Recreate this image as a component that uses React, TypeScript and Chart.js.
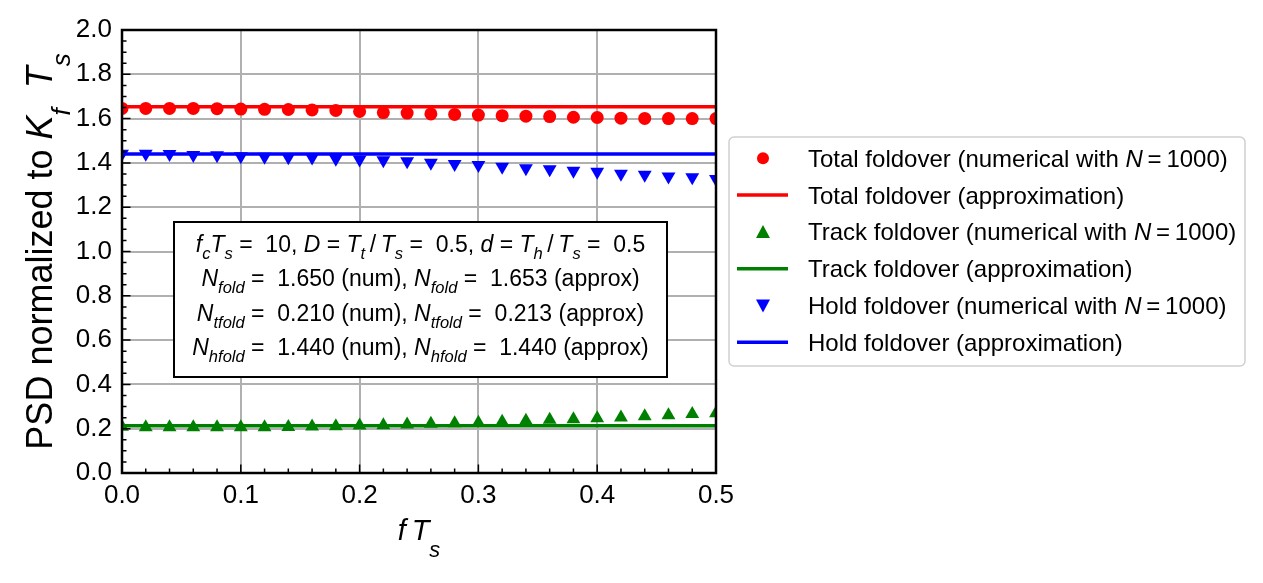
import { useEffect, useRef } from "react";
import { Chart, registerables } from "chart.js";

Chart.register(...registerables);

// frequency axis f*Ts
const fTs = [
	0.0, 0.02, 0.04, 0.06, 0.08, 0.1, 0.12, 0.14, 0.16, 0.18, 0.2, 0.22, 0.24,
	0.26, 0.28, 0.3, 0.32, 0.34, 0.36, 0.38, 0.4, 0.42, 0.44, 0.46, 0.48, 0.5,
];

// numerical PSD values (N = 1000)
const totalNum = [
	1.646, 1.646, 1.646, 1.646, 1.645, 1.643, 1.642, 1.641, 1.639, 1.637, 1.632,
	1.627, 1.625, 1.621, 1.619, 1.616, 1.613, 1.611, 1.609, 1.606, 1.605, 1.602,
	1.601, 1.6, 1.6, 1.6,
];
const trackNum = [
	0.209, 0.206, 0.206, 0.206, 0.206, 0.206, 0.207, 0.208, 0.21, 0.211, 0.214,
	0.216, 0.219, 0.222, 0.225, 0.227, 0.231, 0.236, 0.24, 0.243, 0.247, 0.251,
	0.256, 0.261, 0.266, 0.27,
];
const holdNum = [
	1.441, 1.441, 1.44, 1.436, 1.434, 1.43, 1.428, 1.426, 1.424, 1.419, 1.415,
	1.412, 1.408, 1.401, 1.395, 1.39, 1.383, 1.376, 1.371, 1.365, 1.36, 1.351,
	1.346, 1.339, 1.335, 1.327,
];

// approximations (flat)
const totalApprox = 1.653;
const trackApprox = 0.213;
const holdApprox = 1.44;

// annotation values
const fcTs = 10;
const dutyD = 0.5;
const dutyd = 0.5;
const nFold = [1.65, 1.653];
const nTfold = [0.21, 0.213];
const nHfold = [1.44, 1.44];

const legendLabels = [
	"Total foldover (numerical with ",
	"Total foldover (approximation)",
	"Track foldover (numerical with ",
	"Track foldover (approximation)",
	"Hold foldover (numerical with ",
	"Hold foldover (approximation)",
];

const RED = "#ff0000";
const GREEN = "#008000";
const BLUE = "#0000ff";
const FONT = '"Liberation Sans", Arial, sans-serif';

type Seg = { t: string; it?: boolean; sub?: boolean };

function segFont(s: Seg, size: number, subScale: number) {
	const sz = s.sub ? size * subScale : size;
	return `${s.it ? "italic " : ""}${sz}px ${FONT}`;
}

function richWidth(ctx: CanvasRenderingContext2D, segs: Seg[], size: number, subScale: number) {
	let w = 0;
	for (const s of segs) {
		ctx.font = segFont(s, size, subScale);
		w += ctx.measureText(s.t).width;
	}
	return w;
}

// draws text with italic / subscript pieces, baseline at y
function drawRich(
	ctx: CanvasRenderingContext2D,
	segs: Seg[],
	x: number,
	y: number,
	size: number,
	align: "left" | "center",
	subScale = 0.72,
	subShift = 0.3
) {
	let cx = align === "center" ? x - richWidth(ctx, segs, size, subScale) / 2 : x;
	ctx.textAlign = "left";
	ctx.textBaseline = "alphabetic";
	for (const s of segs) {
		ctx.font = segFont(s, size, subScale);
		ctx.fillText(s.t, cx, s.sub ? y + size * subShift : y);
		cx += ctx.measureText(s.t).width;
	}
}

const decorPlugin = {
	id: "decor",
	afterDatasetsDraw(chart: any) {
		const { ctx, chartArea: a, scales } = chart;
		const xs = scales.x;
		const ys = scales.y;
		ctx.save();
		ctx.strokeStyle = "#000";
		ctx.lineWidth = 1.5;
		ctx.beginPath();
		// x ticks: minor every 0.02, major every 0.1
		for (let i = 0; i <= 25; i++) {
			const px = xs.getPixelForValue(i * 0.02);
			const len = i % 5 === 0 ? 8.5 : 4.5;
			ctx.moveTo(px, a.bottom);
			ctx.lineTo(px, a.bottom - len);
		}
		// y ticks: minor every 0.05, major every 0.2
		for (let i = 0; i <= 40; i++) {
			const py = ys.getPixelForValue(i * 0.05);
			const len = i % 4 === 0 ? 8.5 : 4.5;
			ctx.moveTo(a.left, py);
			ctx.lineTo(a.left + len, py);
		}
		ctx.stroke();
		ctx.lineWidth = 2.5;
		ctx.strokeRect(a.left, a.top, a.right - a.left, a.bottom - a.top);

		// parameter box
		const bx = 174, by = 222, bw = 493, bh = 155;
		ctx.fillStyle = "#fff";
		ctx.fillRect(bx, by, bw, bh);
		ctx.lineWidth = 2;
		ctx.strokeRect(bx, by, bw, bh);
		ctx.fillStyle = "#000";
		const cx = bx + bw / 2;
		const fs = 23;
		const eq = " = ";
		const sl = "\u2009/\u2009";
		drawRich(ctx, [
			{ t: "f", it: true }, { t: "c", it: true, sub: true }, { t: "T", it: true }, { t: "s", it: true, sub: true },
			{ t: ` =  ${fcTs}, ` }, { t: "D", it: true }, { t: eq }, { t: "T", it: true }, { t: "t", it: true, sub: true },
			{ t: sl }, { t: "T", it: true }, { t: "s", it: true, sub: true }, { t: ` =  ${dutyD.toFixed(1)}, ` },
			{ t: "d", it: true }, { t: eq }, { t: "T", it: true }, { t: "h", it: true, sub: true }, { t: sl },
			{ t: "T", it: true }, { t: "s", it: true, sub: true }, { t: ` =  ${dutyd.toFixed(1)}` },
		], cx, 252, fs, "center");
		const nLine = (sub: string, vals: number[]): Seg[] => [
			{ t: "N", it: true }, { t: sub, it: true, sub: true }, { t: ` =  ${vals[0].toFixed(3)} (num), ` },
			{ t: "N", it: true }, { t: sub, it: true, sub: true }, { t: ` =  ${vals[1].toFixed(3)} (approx)` },
		];
		drawRich(ctx, nLine("fold", nFold), cx, 286, fs, "center");
		drawRich(ctx, nLine("tfold", nTfold), cx, 321, fs, "center");
		drawRich(ctx, nLine("hfold", nHfold), cx, 355, fs, "center");
		ctx.restore();
	},
	afterDraw(chart: any) {
		const { ctx, chartArea: a } = chart;
		ctx.save();
		ctx.fillStyle = "#000";
		// x axis title
		drawRich(ctx, [
			{ t: "f", it: true }, { t: "\u2009" }, { t: "T", it: true }, { t: "s", it: true, sub: true },
		], (a.left + a.right) / 2, 540, 29, "center", 0.75, 0.6);
		// y axis title
		ctx.translate(44, (a.top + a.bottom) / 2);
		ctx.rotate(-Math.PI / 2);
		drawRich(ctx, [
			{ t: "PSD normalized to " }, { t: "K", it: true }, { t: "f", it: true, sub: true }, { t: "  " },
			{ t: "T", it: true }, { t: "s", it: true, sub: true },
		], 0, 8, 36, "center", 0.72, 0.5);
		ctx.restore();

		// legend
		ctx.save();
		const lx = 729, ly = 137, lw = 516, lh = 229;
		ctx.beginPath();
		ctx.roundRect(lx, ly, lw, lh, 5);
		ctx.fillStyle = "rgba(255,255,255,0.8)";
		ctx.fill();
		ctx.strokeStyle = "#d0d0d0";
		ctx.lineWidth = 1.5;
		ctx.stroke();
		const colors = [RED, RED, GREEN, GREEN, BLUE, BLUE];
		for (let i = 0; i < 6; i++) {
			const ry = 158.3 + i * 36.8;
			ctx.fillStyle = colors[i];
			ctx.strokeStyle = colors[i];
			if (i % 2 === 1) {
				ctx.lineWidth = 3.5;
				ctx.beginPath();
				ctx.moveTo(737, ry);
				ctx.lineTo(788, ry);
				ctx.stroke();
			} else if (i === 0) {
				ctx.beginPath();
				ctx.arc(763, ry, 6, 0, Math.PI * 2);
				ctx.fill();
			} else {
				const up = i === 2 ? -1 : 1;
				ctx.beginPath();
				ctx.moveTo(763, ry + up * 7);
				ctx.lineTo(756, ry - up * 6);
				ctx.lineTo(770, ry - up * 6);
				ctx.closePath();
				ctx.fill();
			}
			ctx.fillStyle = "#000";
			const segs: Seg[] = i % 2 === 0
				? [{ t: legendLabels[i] }, { t: "N", it: true }, { t: "\u2009=\u20091000)" }]
				: [{ t: legendLabels[i] }];
			drawRich(ctx, segs, 808, ry + 8.5, 24, "left");
		}
		ctx.restore();
	},
};

export default function App() {
	const canvasRef = useRef<HTMLCanvasElement>(null);

	useEffect(() => {
		if (!canvasRef.current) return;
		const pts = (ys: number[]) => fTs.map((x, i) => ({ x, y: ys[i] }));
		const flat = (v: number) => [
			{ x: fTs[0], y: v },
			{ x: fTs[fTs.length - 1], y: v },
		];
		const chart = new Chart(canvasRef.current, {
			type: "scatter",
			data: {
				datasets: [
					{ label: "Total num", data: pts(totalNum), pointStyle: "circle", pointRadius: 6.5, backgroundColor: RED, borderWidth: 0, clip: 0 },
					{ label: "Total approx", data: flat(totalApprox), showLine: true, borderColor: RED, borderWidth: 3.5, pointRadius: 0, clip: 0 },
					{ label: "Track num", data: pts(trackNum), pointStyle: "triangle", pointRadius: 8, backgroundColor: GREEN, borderWidth: 0, clip: 0 },
					{ label: "Track approx", data: flat(trackApprox), showLine: true, borderColor: GREEN, borderWidth: 3.5, pointRadius: 0, clip: 0 },
					{ label: "Hold num", data: pts(holdNum), pointStyle: "triangle", rotation: 180, pointRadius: 8, backgroundColor: BLUE, borderWidth: 0, clip: 0 },
					{ label: "Hold approx", data: flat(holdApprox), showLine: true, borderColor: BLUE, borderWidth: 3.5, pointRadius: 0, clip: 0 },
				] as any,
			},
			options: {
				animation: false,
				responsive: false,
				devicePixelRatio: 1,
				layout: { padding: { left: 0, top: 30, right: 547, bottom: 0 } },
				plugins: { legend: { display: false }, tooltip: { enabled: false } },
				scales: {
					x: {
						type: "linear",
						min: 0,
						max: 0.5,
						afterFit: (s: any) => { s.height = 110; },
						ticks: { stepSize: 0.1, padding: 7, color: "#000", font: { size: 26, family: FONT }, callback: (v: any) => Number(v).toFixed(1) },
						grid: { color: "#b0b0b0", lineWidth: 2, drawTicks: false },
						border: { display: false },
					},
					y: {
						type: "linear",
						min: 0,
						max: 2,
						afterFit: (s: any) => { s.width = 122; },
						ticks: { stepSize: 0.2, padding: 10, color: "#000", font: { size: 26, family: FONT }, callback: (v: any) => Number(v).toFixed(1) },
						grid: { color: "#b0b0b0", lineWidth: 2, drawTicks: false },
						border: { display: false },
					},
				},
			},
			plugins: [decorPlugin],
		});
		return () => chart.destroy();
	}, []);

	return (
		<div style={{ position: "fixed", left: 0, top: 0, width: 1263, height: 583, background: "#fff" }}>
			<canvas ref={canvasRef} width={1263} height={583} style={{ width: 1263, height: 583 }} />
		</div>
	);
}
